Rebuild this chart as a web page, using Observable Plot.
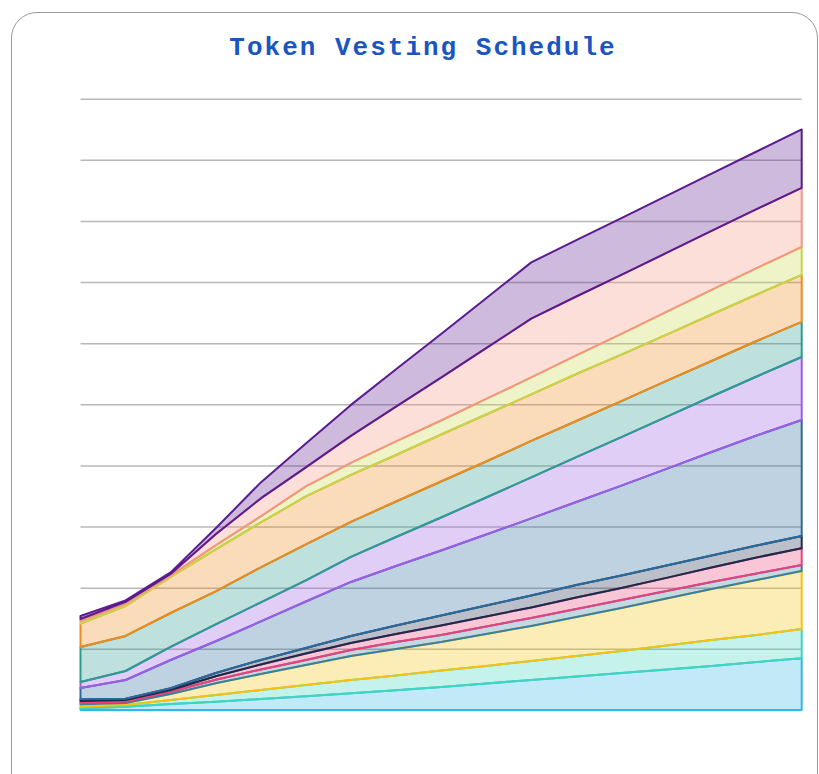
<!DOCTYPE html>
<html>
<head>
<meta charset="utf-8">
<script src="https://cdn.jsdelivr.net/npm/d3@7"></script>
<script src="https://cdn.jsdelivr.net/npm/@observablehq/plot@0.6"></script>
<style>
  html, body { margin: 0; padding: 0; overflow: hidden; background: #fff; width: 819px; height: 774px; }
  #card { position: absolute; left: 11px; top: 12px; width: 807px; height: 800px; border: 1px solid #999; border-radius: 26px; box-sizing: border-box; }
  #title { position: absolute; left: 2px; top: 33px; width: 842px; text-align: center; font: bold 26px "Liberation Mono", "Courier New", monospace; letter-spacing: 2px; color: #1a56c0; }
  #chart { position: absolute; left: 0; top: 0; }
</style>
</head>
<body>
<div id="card"></div>
<div id="title">Token Vesting Schedule</div>
<div id="chart"></div>
<script>
// Months since token generation event
const months = [0, 3, 6, 9, 12, 15, 18, 21, 24, 27, 30, 33, 36, 39, 42, 45, 48];

// Allocation names, bottom to top of the stack
const series = [
  "Public Sale", "Liquidity", "Private Sale", "Seed", "Strategic", "Partners",
  "Ecosystem", "Community", "Foundation", "Team", "Advisors", "Treasury", "Staking Rewards"
];

const colors = [
  "#36b6e6", "#3fd6c0", "#f5c211", "#3a7f9f", "#e8417c", "#1b2b4b",
  "#2b6a9b", "#9d5ee6", "#2a9d8f", "#f08a1c", "#c6d64a", "#f59682", "#5b1a8e"
];

// Unlocked amount per allocation (% of supply), one value per month point
const publicSale   = [0.28, 0.54, 0.98, 1.36, 1.80, 2.26, 2.73, 3.24, 3.76, 4.34, 4.91, 5.48, 6.05, 6.63, 7.20, 7.85, 8.46];
const liquidity    = [0.26, 0.28, 0.65, 1.10, 1.47, 1.83, 2.18, 2.40, 2.70, 2.86, 3.11, 3.35, 3.60, 3.93, 4.25, 4.42, 4.79];
const privateSale  = [0.39, 0.33, 0.98, 1.91, 2.62, 3.27, 3.93, 4.34, 4.66, 5.23, 5.73, 6.38, 7.03, 7.69, 8.34, 9.00, 9.49];
const seed         = [0.21, 0.21, 0.38, 0.57, 0.74, 0.82, 0.98, 1.15, 1.15, 1.23, 1.31, 1.31, 1.31, 1.23, 1.15, 1.06, 0.98];
const strategic    = [0.33, 0.28, 0.28, 0.57, 0.82, 1.06, 1.15, 1.31, 1.55, 1.64, 1.72, 1.88, 1.96, 2.13, 2.37, 2.62, 2.73];
const partners     = [0.33, 0.21, 0.28, 0.54, 0.74, 0.90, 1.15, 1.39, 1.64, 1.80, 1.96, 2.04, 2.04, 2.04, 1.96, 1.96, 2.01];
const ecosystem    = [1.80, 3.06, 4.63, 5.19, 6.30, 7.61, 8.83, 9.73, 10.63, 11.61, 12.60, 13.58, 14.72, 15.79, 16.93, 17.99, 18.98];
const community    = [0.98, 1.47, 2.13, 2.78, 3.11, 3.44, 4.09, 4.74, 5.40, 6.05, 6.71, 7.36, 7.93, 8.51, 9.08, 9.65, 10.31];
const foundation   = [5.73, 5.73, 5.56, 5.40, 5.73, 5.89, 5.73, 5.81, 5.89, 5.89, 5.97, 5.89, 5.89, 5.89, 5.81, 5.81, 5.73];
const team         = [3.84, 4.91, 5.89, 6.87, 7.36, 7.85, 7.69, 7.61, 7.69, 7.69, 7.61, 7.69, 7.61, 7.57, 7.61, 7.61, 7.69];
const advisors     = [0.41, 0.33, 0.25, 0.65, 0.98, 1.64, 1.96, 2.21, 2.29, 2.54, 2.78, 3.04, 3.40, 3.71, 4.02, 4.30, 4.58];
const treasury     = [0.33, 0.33, 0.25, 1.80, 2.94, 3.11, 4.42, 5.71, 7.02, 8.31, 9.60, 9.64, 9.65, 9.65, 9.67, 9.67, 9.65];
const staking      = [0.49, 0.25, 0.25, 0.98, 2.62, 3.92, 5.07, 6.10, 7.12, 8.16, 9.21, 9.24, 9.28, 9.32, 9.37, 9.42, 9.57];

const yTicks = [0, 10, 20, 30, 40, 50, 60, 70, 80, 90, 100];

const valueLists = [publicSale, liquidity, privateSale, seed, strategic, partners,
  ecosystem, community, foundation, team, advisors, treasury, staking];

const data = [];
series.forEach((name, i) => {
  months.forEach((m, j) => data.push({series: name, month: m, value: valueLists[i][j]}));
});

const chart = Plot.plot({
  width: 819,
  height: 774,
  marginTop: 98.7,
  marginBottom: 64,
  marginLeft: 80.5,
  marginRight: 17.3,
  style: {background: "transparent", overflow: "visible"},
  x: {domain: [0, 48], axis: null},
  y: {domain: [0, 100], axis: null},
  color: {domain: series, range: colors},
  marks: [
    Plot.gridY(yTicks, {stroke: "#b8b8b8", strokeOpacity: 1, strokeWidth: 1.5}),
    Plot.areaY(data, {
      x: "month", y: "value", z: "series",
      fill: "series", fillOpacity: 0.3,
      stroke: "series", strokeWidth: 2, strokeLinejoin: "round",
      order: series
    })
  ]
});
document.getElementById("chart").appendChild(chart);
</script>
</body>
</html>
